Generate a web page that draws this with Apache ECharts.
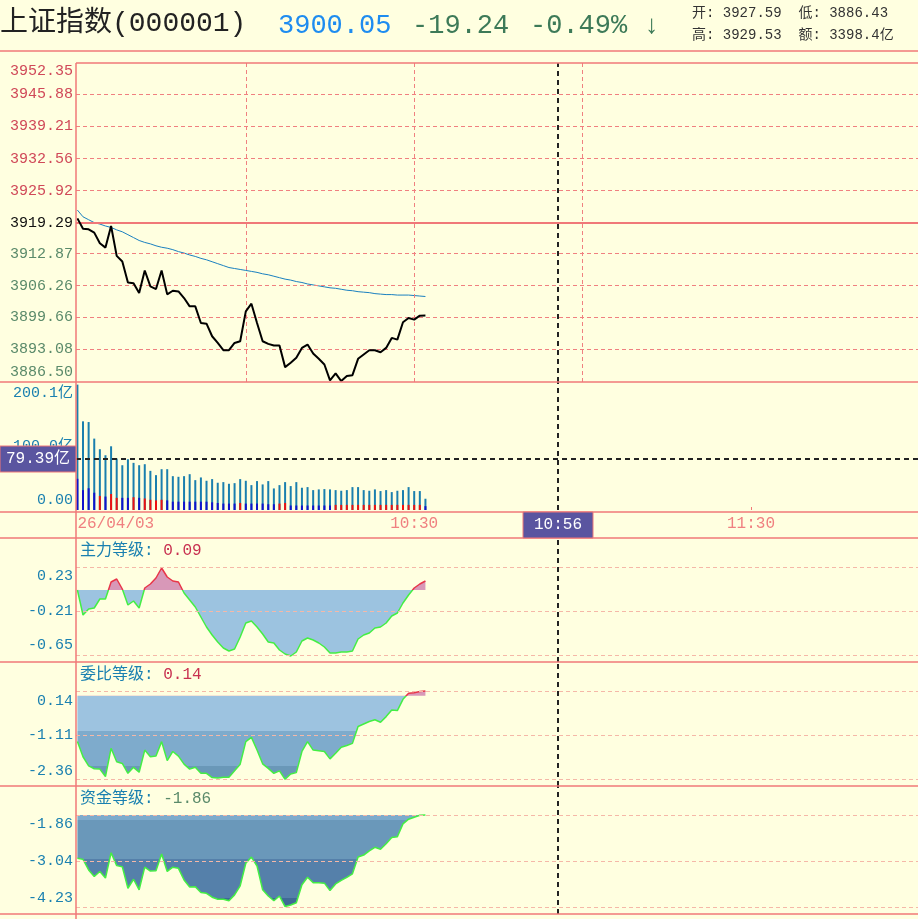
<!DOCTYPE html>
<html><head><meta charset="utf-8">
<script src="https://cdn.jsdelivr.net/npm/echarts@6/dist/echarts.min.js"></script>
<style>html,body{margin:0;padding:0;background:#ffffe0}#c{width:918px;height:919px}</style>
</head><body><div id="c"></div>
<script>
const priceTicks=[3952.35,3945.88,3939.21,3932.56,3925.92,3919.29,3912.87,3906.26,3899.66,3893.08,3886.50];
const prevClose=3919.29;
const price=[3920.18,3918.05,3917.92,3917.23,3915.03,3914.13,3918.60,3912.41,3911.24,3906.91,3906.77,3904.71,3909.39,3906.09,3905.54,3909.39,3904.44,3905.19,3905.05,3903.68,3901.96,3901.96,3898.52,3898.38,3895.77,3894.39,3892.88,3892.88,3894.39,3894.74,3900.93,3902.51,3898.52,3894.74,3894.19,3893.85,3893.85,3889.38,3890.27,3891.30,3893.36,3894.05,3892.20,3891.10,3889.93,3886.62,3888.07,3886.49,3887.52,3887.72,3891.10,3891.99,3892.88,3892.88,3892.47,3893.36,3895.43,3895.08,3898.66,3899.55,3899.21,3900.03,3900.05];
const avgPrice=[3921.9,3920.5,3919.9,3919.3,3919.0,3918.6,3918.3,3917.8,3917.4,3916.8,3916.2,3915.6,3915.2,3914.9,3914.5,3914.2,3914.0,3913.7,3913.3,3913.0,3912.6,3912.3,3911.9,3911.6,3911.2,3910.8,3910.4,3910.0,3909.8,3909.6,3909.4,3909.2,3909.0,3908.7,3908.5,3908.2,3907.9,3907.6,3907.4,3907.1,3906.9,3906.6,3906.4,3906.2,3906.0,3905.8,3905.7,3905.5,3905.3,3905.2,3905.0,3904.9,3904.8,3904.6,3904.5,3904.4,3904.4,3904.3,3904.3,3904.3,3904.2,3904.1,3904.0];
const volume=[196,138.6,137.5,111.6,95,85.6,99.6,80.4,70,79.4,73.7,70,71.6,61.2,54.5,63.8,63.8,52.9,51.9,52.9,56,46.7,50.9,45.7,48.3,42.6,43.6,41,42,48.3,45.7,38.9,45.2,40,45.2,33.7,38.9,43.6,37.4,43.6,34.8,35.8,31.1,32.2,32.7,32.2,31.1,30.1,31.1,35.8,35.8,31.1,30.1,32.2,29.6,31.1,28,30.1,31.1,35.8,29.6,29.6,17.6];
const volInner=[48.8,31,34,27,22,21,25,19,19,19,20,19,18,16,15,16,15,13,13,13,13,13,13,13,12,11,10,10,10,11,10,10,10,10,9,9,10,11,7,7,7,7,7,7,7,7,8,8,8,8,8,8,8,8,8,8,8,8,8,8,8,8,6];
const volDir="bbbbrbrrbbrbrrrrbbbbbbbbbbbbbrbbbbbbrrbbbbbbbbrrrrrrrrrrrrrrrr";
const zhuli=[0,-0.25,-0.19,-0.18,-0.09,-0.09,0.08,0.11,0.01,-0.15,-0.11,-0.18,0.02,0.06,0.12,0.22,0.13,0.09,0.08,-0.03,-0.10,-0.17,-0.27,-0.37,-0.45,-0.52,-0.58,-0.61,-0.59,-0.47,-0.33,-0.31,-0.37,-0.44,-0.52,-0.53,-0.60,-0.64,-0.66,-0.62,-0.51,-0.48,-0.50,-0.53,-0.57,-0.63,-0.63,-0.62,-0.62,-0.61,-0.49,-0.45,-0.43,-0.38,-0.37,-0.33,-0.26,-0.23,-0.13,-0.05,0.02,0.06,0.09];
const weibi=[-1.30,-1.73,-1.99,-2.07,-2.08,-2.29,-1.49,-1.87,-1.92,-2.20,-2.03,-2.17,-1.54,-1.73,-1.71,-1.30,-1.84,-1.58,-1.71,-1.94,-2.08,-2.03,-2.20,-2.20,-2.32,-2.33,-2.31,-2.31,-2.13,-1.94,-1.30,-1.18,-1.54,-1.93,-2.06,-2.20,-2.13,-2.37,-2.22,-2.18,-1.58,-1.30,-1.54,-1.56,-1.58,-1.79,-1.63,-1.46,-1.41,-1.35,-0.87,-0.80,-0.73,-0.68,-0.75,-0.59,-0.40,-0.42,-0.10,0.07,0.09,0.12,0.14];
const zijin=[-2.97,-3.00,-3.27,-3.44,-3.31,-3.48,-2.83,-3.16,-3.19,-3.74,-3.51,-3.78,-3.20,-3.30,-3.29,-2.86,-3.31,-3.20,-3.23,-3.53,-3.71,-3.70,-3.85,-3.87,-3.97,-4.02,-4.02,-4.06,-3.91,-3.68,-3.10,-2.94,-3.17,-3.78,-3.94,-4.06,-3.94,-4.21,-4.17,-4.11,-3.65,-3.46,-3.60,-3.60,-3.61,-3.80,-3.63,-3.54,-3.46,-3.37,-2.94,-2.89,-2.78,-2.69,-2.74,-2.60,-2.44,-2.42,-2.09,-1.97,-1.92,-1.87,-1.86];
const zhuliTicks=[0.23,-0.21,-0.65], weibiTicks=[0.14,-1.11,-2.36], zijinTicks=[-1.86,-3.04,-4.23];
const volTicks=[200.1,100,0];
const timeTicks=[0,60,120], timeLabels={0:'26/04/03',60:'10:30',120:'11:30'};
const cursorMin=85.6, cursorVol=79.39;

const pts=a=>a.map((v,i)=>[i,v]);
const FONT="'Liberation Mono','Noto Sans CJK SC'";
const PINK='#f07878', LPINK='#f5b8a8';
const chart=echarts.init(document.getElementById('c'));
const grids=[{top:63,height:319},{top:382,height:128},{top:538,height:124},{top:662,height:124},{top:786,height:128}].map(g=>({left:76,width:844,...g}));
const xAxes=grids.map((g,i)=>({type:'value',gridIndex:i,min:-0.25,max:149.75,show:i===1,
  axisLine:{show:false},splitLine:{show:false},
  axisTick:{show:i===1,customValues:[30,60,120],length:3,inside:true,lineStyle:{color:PINK}},
  axisLabel:{show:i===1,customValues:timeTicks,formatter:v=>timeLabels[v]||'',color:'#f08080',fontSize:16,fontFamily:FONT,margin:6,alignMinLabel:'left'}}));
function yAx(i,min,max,ticks,fmt,shiftTop,shiftBot){
  const h=grids[i].height, per=(max-min)/h;
  const pos=ticks.map((t,k)=>k===0?t-shiftTop*per:(k===ticks.length-1?t+shiftBot*per:t));
  const lookup=v=>{let b=0;pos.forEach((p,k)=>{if(Math.abs(p-v)<Math.abs(pos[b]-v))b=k;});return ticks[b];};
  return{type:'value',gridIndex:i,min,max,axisLine:{show:false},axisTick:{show:false},splitLine:{show:false},
  axisLabel:{customValues:pos,formatter:v=>fmt(lookup(v)),color:'#1a80b0',fontSize:15,fontFamily:FONT,margin:3,
  rich:{up:{color:'#d04858',fontSize:15,fontFamily:FONT},mid:{color:'#111',fontSize:15,fontFamily:FONT},dn:{color:'#5a8a6a',fontSize:15,fontFamily:FONT}}}};}
const yAxes=[
  yAx(0,3886.3,3952.35,priceTicks,v=>{const s=v.toFixed(2);return v>prevClose+0.01?'{up|'+s+'}':(Math.abs(v-prevClose)<0.01?'{mid|'+s+'}':'{dn|'+s+'}');},8,9),
  yAx(1,0,200.1,volTicks,v=>v===0?'0.00':v.toFixed(1)+'亿',11,10),
  yAx(2,-0.72,0.52,zhuliTicks,v=>v.toFixed(2),9,10),
  yAx(3,-2.56,0.96,weibiTicks,v=>v.toFixed(2),10,8),
  yAx(4,-4.40,-1.12,zijinTicks,v=>v.toFixed(2),9,9)];
const cross={xAxis:cursorMin,lineStyle:{color:'#222',type:[5,4],width:2}};
const hl=(vals,c)=>vals.map(v=>({yAxis:v,lineStyle:{color:c,type:[4,3],width:1}}));
const ml=data=>({silent:true,symbol:'none',label:{show:false},animation:false,data});
const series=[
 {type:'line',xAxisIndex:0,yAxisIndex:0,data:pts(price),showSymbol:false,lineStyle:{color:'#000',width:2},color:'#000',z:5,
  markLine:ml([...hl(priceTicks.slice(1,-1).filter(v=>v!==prevClose),'#f08080'),{yAxis:prevClose,lineStyle:{color:PINK,type:'solid',width:2}},
   ...[30,60,90].map(x=>({xAxis:x,lineStyle:{color:'#f08080',type:[4,3],width:1}})),cross])},
 {type:'line',xAxisIndex:0,yAxisIndex:0,data:pts(avgPrice),showSymbol:false,lineStyle:{color:'#1a80c0',width:1},color:'#1a80c0'},
 {type:'bar',xAxisIndex:1,yAxisIndex:1,data:pts(volume),barWidth:2,itemStyle:{color:'#1a7fae'},barGap:'-100%',
  markLine:ml([{yAxis:cursorVol,lineStyle:{color:'#222',type:[5,4],width:2}},cross])},
 {type:'bar',xAxisIndex:1,yAxisIndex:1,data:volInner.map((v,i)=>({value:[i,v],itemStyle:{color:volDir[i]==='r'?'#ee1111':'#1111cc'}})),barWidth:2,barGap:'-100%'},
 {type:'line',xAxisIndex:2,yAxisIndex:2,data:pts(zhuli),showSymbol:false,lineStyle:{width:0},areaStyle:{origin:0,opacity:1},
  markLine:ml([...hl(zhuliTicks,LPINK),cross])},
 {type:'line',xAxisIndex:2,yAxisIndex:2,data:pts(zhuli),showSymbol:false,lineStyle:{width:1.5}},
 {type:'line',xAxisIndex:3,yAxisIndex:3,data:pts(weibi),showSymbol:false,lineStyle:{width:0},areaStyle:{origin:0,opacity:1},
  markLine:ml([...hl(weibiTicks,LPINK),cross])},
 {type:'line',xAxisIndex:3,yAxisIndex:3,data:pts(weibi),showSymbol:false,lineStyle:{width:1.5}},
 {type:'line',xAxisIndex:4,yAxisIndex:4,data:pts(zijin),showSymbol:false,lineStyle:{width:0},areaStyle:{origin:-1.86,opacity:1},
  markLine:ml([...hl(zijinTicks,LPINK),cross])},
 {type:'line',xAxisIndex:4,yAxisIndex:4,data:pts(zijin),showSymbol:false,lineStyle:{width:1.5,color:'#44ee44'},color:'#44ee44'}
];
const vm=(idx,pieces)=>({type:'piecewise',show:false,seriesIndex:idx,dimension:1,pieces});
const visualMap=[
 vm(4,[{gte:0,lte:5,color:'#d898b8'},{gte:-5,lt:0,color:'#9cc3e0'}]),
 vm(5,[{gte:0,lte:5,color:'#e8364a'},{gte:-5,lt:0,color:'#44ee44'}]),
 vm(6,[{gte:0,lte:5,color:'#d898b8'},{gte:-1,lt:0,color:'#9dc3e0'},{gte:-2,lt:-1,color:'#7eabcc'},{gte:-9,lt:-2,color:'#6a98b8'}]),
 vm(7,[{gte:0,lte:5,color:'#e8364a'},{gte:-9,lt:0,color:'#44ee44'}]),
 vm(8,[{gte:-2,lte:0,color:'#7eabcc'},{gte:-3,lt:-2,color:'#6a98ba'},{gte:-4,lt:-3,color:'#5580aa'},{gte:-9,lt:-4,color:'#3f6a96'}])
];
const line=(x1,y1,x2,y2)=>({type:'line',shape:{x1,y1,x2,y2},style:{stroke:PINK,lineWidth:1.5},z:10,silent:true});
const txt=(x,y,text,fill,size,extra)=>({type:'text',x,y,style:{text,fill,font:size+'px '+FONT,textVerticalAlign:'middle',...(extra||{})},z:22});
const richTxt=(x,y,parts)=>({type:'text',x,y,z:22,style:{textVerticalAlign:'middle',text:parts.map((p,i)=>'{s'+i+'|'+p[0]+'}').join(''),
  rich:Object.fromEntries(parts.map((p,i)=>['s'+i,{fill:p[1],fontSize:16,fontFamily:FONT}]))}});
const graphic=[
 line(0,51,918,51),line(76,63,918,63),line(76,63,76,919),
 line(0,382,918,382),line(0,512,918,512),line(0,538,918,538),line(0,662,918,662),line(0,786,918,786),line(0,914,918,914),
 txt(0,24,'上证指数(000001)','#222',28),
 txt(278,26,'3900.05','#1e8cf0',27),
 txt(412,26,'-19.24','#3d7a58',27),
 txt(530,26,'-0.49%','#3d7a58',27),
 txt(644,26,'↓','#3d7a58',26),
 txt(692,13,'开: 3927.59  低: 3886.43','#333',14),
 txt(692,35,'高: 3929.53  额: 3398.4亿','#333',14),
 richTxt(80,551,[['主力等级: ','#1a80b0'],['0.09','#c83050']]),
 richTxt(80,675,[['委比等级: ','#1a80b0'],['0.14','#c83050']]),
 richTxt(80,799,[['资金等级: ','#1a80b0'],['-1.86','#5a8a6a']]),
 {type:'rect',shape:{x:0,y:446,width:76,height:26},style:{fill:'#5a55a0',stroke:PINK},z:21},
 txt(38,459,'79.39亿','#fff',16,{textAlign:'center'}),
 {type:'rect',shape:{x:523,y:512,width:70,height:26},style:{fill:'#5a55a0',stroke:PINK},z:21},
 txt(558,525,'10:56','#fff',16,{textAlign:'center'})
];
chart.setOption({animation:false,backgroundColor:'#ffffe0',grid:grids,xAxis:xAxes,yAxis:yAxes,series,visualMap,graphic});
</script></body></html>
